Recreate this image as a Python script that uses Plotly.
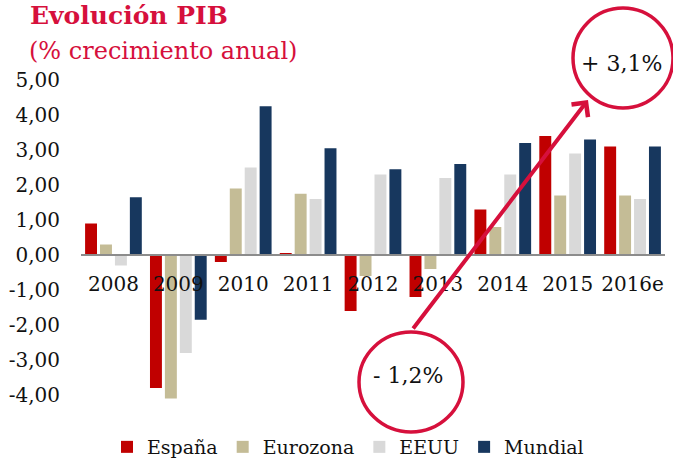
import plotly.graph_objects as go

years = ["2008", "2009", "2010", "2011", "2012", "2013", "2014", "2015", "2016e"]
espana = [0.9, -3.8, -0.2, 0.05, -1.6, -1.2, 1.3, 3.4, 3.1]
eurozona = [0.3, -4.1, 1.9, 1.75, -0.6, -0.4, 0.8, 1.7, 1.7]
eeuu = [-0.3, -2.8, 2.5, 1.6, 2.3, 2.2, 2.3, 2.9, 1.6]
mundial = [1.65, -1.85, 4.25, 3.05, 2.45, 2.6, 3.2, 3.3, 3.1]

series = [
    ("España", espana, "#c00000"),
    ("Eurozona", eurozona, "#c4bc96"),
    ("EEUU", eeuu, "#d9d9d9"),
    ("Mundial", mundial, "#17375e"),
]

FONT = "DejaVu Serif"
RED = "#d6103c"

L, R, T, B = 81, 8, 70, 5
W, H = 673, 460
PW, PH = W - L - R, H - T - B

fig = go.Figure()
for name, vals, col in series:
    fig.add_trace(go.Bar(x=years, y=vals, name=name, marker_color=col,
                         marker_line_width=0))

yr = [(255 - (H - B)) / 35, (255 - T) / 35]
zero_pos = -yr[0] / (yr[1] - yr[0])


def px_x(p):
    return (p - L) / PW


def px_y(p):
    return (H - B - p) / PH


fig.update_layout(
    width=W, height=H,
    margin=dict(l=L, r=R, t=T, b=B, autoexpand=False),
    paper_bgcolor="white", plot_bgcolor="white",
    barmode="group", bargap=0.08, bargroupgap=0.2,
    font=dict(family=FONT, size=20, color="#111111"),
    showlegend=True,
    legend=dict(orientation="h", x=px_x(107), xanchor="left", y=px_y(447), yanchor="middle",
                font=dict(family=FONT, size=19, color="#111111"),
                itemwidth=30, traceorder="normal", bgcolor="rgba(0,0,0,0)"),
    xaxis=dict(anchor="free", position=zero_pos, showline=True, linecolor="#8c8c8c",
               linewidth=1.5, ticks="", ticklabelstandoff=11, showgrid=False,
               automargin=False,
               tickfont=dict(family=FONT, size=20, color="#111111"), layer="above traces"),
    yaxis=dict(range=yr, tickvals=[5, 4, 3, 2, 1, 0, -1, -2, -3, -4],
               ticktext=["5,00", "4,00", "3,00", "2,00", "1,00", "0,00",
                         "-1,00", "-2,00", "-3,00", "-4,00"],
               showgrid=False, zeroline=False, showline=False, ticks="",
               ticklabelstandoff=20, automargin=False,
               tickfont=dict(family=FONT, size=20, color="#111111")),
)

# title
fig.add_annotation(text="<b>Evolución PIB</b>", xref="paper", yref="paper",
                   x=px_x(28), y=px_y(16), xanchor="left", yanchor="middle",
                   showarrow=False, font=dict(family=FONT, size=25, color=RED))
fig.add_annotation(text="(% crecimiento anual)", xref="paper", yref="paper",
                   x=px_x(27), y=px_y(51), xanchor="left", yanchor="middle",
                   showarrow=False, font=dict(family=FONT, size=24, color=RED))

# circles
fig.add_shape(type="circle", xref="paper", yref="paper",
              x0=px_x(573), x1=px_x(673), y0=px_y(108), y1=px_y(8),
              line=dict(color=RED, width=3.5))
fig.add_shape(type="circle", xref="paper", yref="paper",
              x0=px_x(359), x1=px_x(463), y0=px_y(432), y1=px_y(332),
              line=dict(color=RED, width=3.5))
fig.add_annotation(text="+ 3,1%", xref="paper", yref="paper",
                   x=px_x(621), y=px_y(63), xanchor="center", yanchor="middle",
                   showarrow=False, font=dict(family=FONT, size=22, color="#111111"))
fig.add_annotation(text="- 1,2%", xref="paper", yref="paper",
                   x=px_x(408), y=px_y(375), xanchor="center", yanchor="middle",
                   showarrow=False, font=dict(family=FONT, size=22, color="#111111"))

# arrow
fig.add_annotation(text="", xref="paper", yref="paper",
                   x=px_x(588), y=px_y(100), ax=412 - 588, ay=330 - 100,
                   showarrow=True, arrowhead=4, arrowsize=1, arrowwidth=4,
                   arrowcolor=RED)

fig.write_html("out.html", config={"displayModeBar": False},
               post_script="document.body.style.margin='0';document.body.style.padding='0';")
